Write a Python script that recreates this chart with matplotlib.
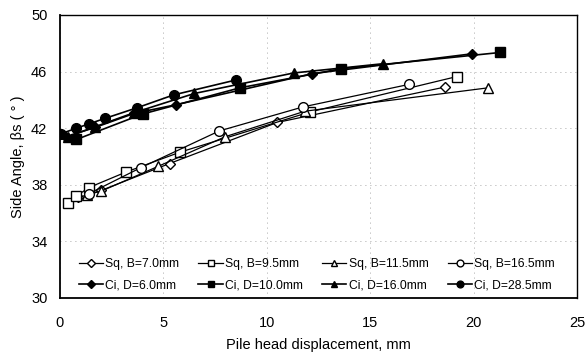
import matplotlib.pyplot as plt

plt.rcParams['font.family'] = ['Liberation Sans', 'DejaVu Sans']

# displacement (mm) and side angle (deg)
sq70_x = [0.9, 2.0, 5.3, 10.5, 18.6]
sq70_y = [37.1, 37.6, 39.5, 42.4, 44.9]
sq95_x = [0.4, 0.8, 1.4, 3.2, 5.8, 12.1, 19.2]
sq95_y = [36.7, 37.2, 37.8, 38.9, 40.3, 43.15, 45.65]
sq115_x = [1.3, 2.0, 4.75, 8.0, 11.85, 20.7]
sq115_y = [37.3, 37.55, 39.3, 41.4, 43.2, 44.85]
sq165_x = [1.4, 3.9, 7.7, 11.75, 16.9]
sq165_y = [37.37, 39.2, 41.8, 43.5, 45.1]

ci60_x = [0.3, 1.7, 3.6, 5.6, 12.2, 19.9]
ci60_y = [41.4, 42.05, 43.05, 43.65, 45.85, 47.25]
ci100_x = [0.8, 4.0, 8.7, 13.6, 21.3]
ci100_y = [41.2, 43.0, 44.85, 46.2, 47.35]
ci160_x = [0.4, 1.7, 3.6, 6.5, 11.3, 15.6]
ci160_y = [41.4, 42.1, 43.1, 44.45, 45.9, 46.55]
ci285_x = [0.05, 0.8, 1.4, 2.2, 3.75, 5.5, 8.5]
ci285_y = [41.6, 42.0, 42.3, 42.7, 43.45, 44.35, 45.4]

fig = plt.figure(figsize=(5.87, 3.56), dpi=100)
ax = fig.add_axes([0.102, 0.163, 0.881, 0.795])

ms = 7
h1, = ax.plot(sq70_x, sq70_y, 'k-', marker='D', ms=5.5, mfc='white', lw=0.9, label='Sq, B=7.0mm')
h2, = ax.plot(sq95_x, sq95_y, 'k-', marker='s', ms=ms, mfc='white', lw=0.9, label='Sq, B=9.5mm')
h3, = ax.plot(sq115_x, sq115_y, 'k-', marker='^', ms=ms, mfc='white', lw=0.9, label='Sq, B=11.5mm')
h4, = ax.plot(sq165_x, sq165_y, 'k-', marker='o', ms=ms, mfc='white', lw=0.9, label='Sq, B=16.5mm')
h5, = ax.plot(ci60_x, ci60_y, 'k-', marker='D', ms=5.5, lw=1.2, label='Ci, D=6.0mm')
h6, = ax.plot(ci100_x, ci100_y, 'k-', marker='s', ms=ms, lw=1.2, label='Ci, D=10.0mm')
h7, = ax.plot(ci160_x, ci160_y, 'k-', marker='^', ms=ms, lw=1.2, label='Ci, D=16.0mm')
h8, = ax.plot(ci285_x, ci285_y, 'k-', marker='o', ms=ms, lw=1.2, label='Ci, D=28.5mm')

ax.set_xlim(0, 25)
ax.set_ylim(30, 50)
ax.set_xticks([0, 5, 10, 15, 20, 25])
ax.set_yticks([30, 34, 38, 42, 46, 50])
ax.tick_params(length=0, labelsize=10.5)
ax.tick_params(axis='x', pad=13)
ax.tick_params(axis='y', pad=9)
ax.grid(True, color='0.55', linestyle=(0, (1, 5)), linewidth=0.6)
for s in ax.spines.values():
    s.set_linewidth(1.0)
ax.spines['left'].set_linewidth(1.3)
ax.spines['bottom'].set_linewidth(1.3)

ax.set_xlabel('Pile head displacement, mm', fontsize=10.5, labelpad=6)
ax.set_ylabel('Side Angle, βs ( ° )', fontsize=10.5)

# legend fills column-wise, so interleave the rows
handles = [h1, h5, h2, h6, h3, h7, h4, h8]
ax.legend(handles=handles, ncol=4, loc='lower left', bbox_to_anchor=(0.015, -0.015),
          frameon=False, fontsize=8.7, handlelength=2.0, handletextpad=0.2,
          columnspacing=1.6, labelspacing=0.75, markerscale=0.7)

fig.savefig('out.png', dpi=100)
